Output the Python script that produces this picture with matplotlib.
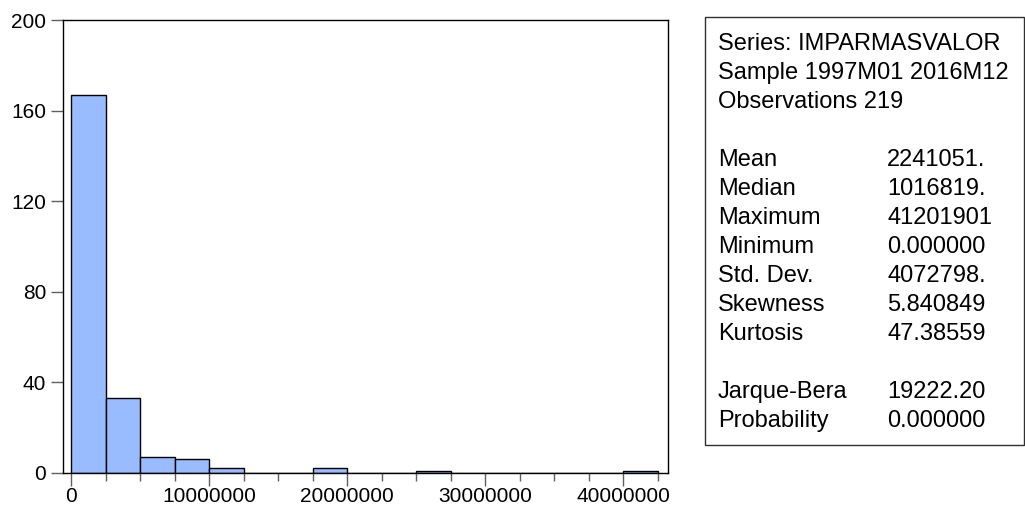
import numpy as np
import matplotlib
matplotlib.use('Agg')
import matplotlib.pyplot as plt
from matplotlib.patches import Rectangle
from matplotlib.ticker import MultipleLocator

# Histogram of IMPARMASVALOR, bins of 2.5 million
bin_width = 2500000
bin_starts = np.arange(0, 42500000, bin_width)
counts = [167, 33, 7, 6, 2, 0, 0, 2, 0, 0, 1, 0, 0, 0, 0, 0, 1]

# Summary statistics panel
header_lines = ['Series: IMPARMASVALOR', 'Sample 1997M01 2016M12', 'Observations 219']
stat_names = ['Mean', 'Median', 'Maximum', 'Minimum', 'Std. Dev.', 'Skewness', 'Kurtosis']
stat_values = ['2241051.', '1016819.', '41201901', '0.000000', '4072798.', '5.840849', '47.38559']
test_names = ['Jarque-Bera', 'Probability']
test_values = ['19222.20', '0.000000']

plt.rcParams['font.family'] = ['Liberation Sans', 'DejaVu Sans']

W, H = 1025, 509
fig = plt.figure(figsize=(W / 100, H / 100), dpi=100)
ax = fig.add_axes([63 / W, 1 - 473 / H, (668 - 63) / W, (473 - 20) / H])

ax.bar(bin_starts, counts, width=bin_width, align='edge',
       color='#99BBFF', edgecolor='black', linewidth=1.0)

ax.set_xlim(-580000, 43260000)
ax.set_ylim(0, 200)
ax.set_yticks([0, 40, 80, 120, 160, 200])
ax.set_xticks([0, 10000000, 20000000, 30000000, 40000000])
ax.set_xticklabels(['0', '10000000', '20000000', '30000000', '40000000'])
ax.xaxis.set_minor_locator(MultipleLocator(2500000))

ax.tick_params(axis='both', which='major', direction='out', length=9, width=1,
               color='#606060', labelsize=15)
ax.tick_params(axis='x', which='minor', direction='out', length=6, width=1, color='#606060')
ax.tick_params(axis='y', pad=3)
ax.tick_params(axis='x', pad=1)
for s in ax.spines.values():
    s.set_linewidth(1.0)
    s.set_color('black')

# Statistics box
fig.patches.append(Rectangle((705 / W, 1 - 445 / H), (1024 - 705) / W, (445 - 17) / H,
                             transform=fig.transFigure, fill=False,
                             edgecolor='#303030', linewidth=1.0))

col1 = 718 / W
col2 = 887 / W
step = 29
y0 = 50
fs = 17

for i, line in enumerate(header_lines):
    fig.text(col1, 1 - (y0 + i * step) / H, line, fontsize=fs, va='baseline')

for i, (n, v) in enumerate(zip(stat_names, stat_values)):
    y = y0 + (4 + i) * step
    fig.text(col1, 1 - y / H, n, fontsize=fs, va='baseline')
    fig.text(col2, 1 - y / H, v, fontsize=fs, va='baseline')

for i, (n, v) in enumerate(zip(test_names, test_values)):
    y = y0 + (12 + i) * step
    fig.text(col1, 1 - y / H, n, fontsize=fs, va='baseline')
    fig.text(col2, 1 - y / H, v, fontsize=fs, va='baseline')

fig.savefig('out.png', dpi=100)
